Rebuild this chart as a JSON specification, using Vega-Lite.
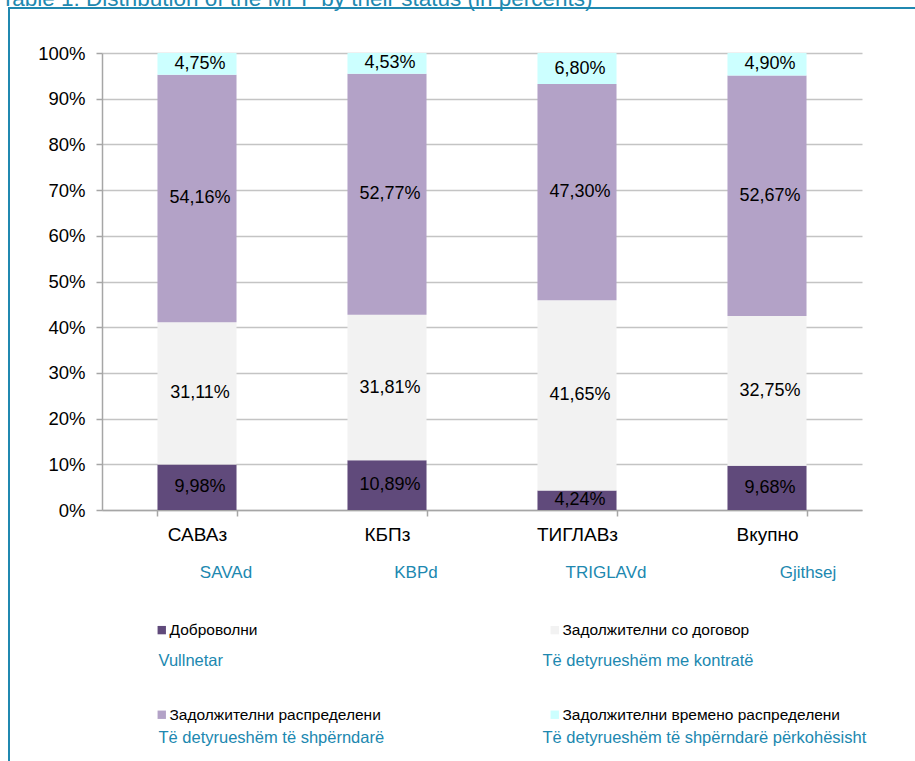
{
  "$schema": "https://vega.github.io/schema/vega-lite/v6.json",
  "width": 912,
  "height": 760,
  "autosize": {"type": "none"},
  "padding": {"left": 9, "top": 8, "right": -6, "bottom": -7},
  "background": "white",
  "title": {
    "text": "Table 1: Distribution of the MPF by their status (in percents)",
    "anchor": "start",
    "frame": "group",
    "orient": "top",
    "offset": 0,
    "baseline": "alphabetic",
    "dx": -8,
    "dy": 20,
    "fontSize": 22.5,
    "fontWeight": "normal",
    "color": "#2088b0"
  },
  "data": {
    "values": [
      {"company": "САВАз", "status": "Доброволни", "sq": "Vullnetar", "k": 1, "v": 9.98},
      {"company": "САВАз", "status": "Задолжителни со договор", "sq": "Të detyrueshëm me kontratë", "k": 2, "v": 31.11},
      {"company": "САВАз", "status": "Задолжителни распределени", "sq": "Të detyrueshëm të shpërndarë", "k": 3, "v": 54.16},
      {"company": "САВАз", "status": "Задолжителни времено распределени", "sq": "Të detyrueshëm të shpërndarë përkohësisht", "k": 4, "v": 4.75},
      {"company": "КБПз", "status": "Доброволни", "sq": "Vullnetar", "k": 1, "v": 10.89},
      {"company": "КБПз", "status": "Задолжителни со договор", "sq": "Të detyrueshëm me kontratë", "k": 2, "v": 31.81},
      {"company": "КБПз", "status": "Задолжителни распределени", "sq": "Të detyrueshëm të shpërndarë", "k": 3, "v": 52.77},
      {"company": "КБПз", "status": "Задолжителни времено распределени", "sq": "Të detyrueshëm të shpërndarë përkohësisht", "k": 4, "v": 4.53},
      {"company": "ТИГЛАВз", "status": "Доброволни", "sq": "Vullnetar", "k": 1, "v": 4.24},
      {"company": "ТИГЛАВз", "status": "Задолжителни со договор", "sq": "Të detyrueshëm me kontratë", "k": 2, "v": 41.65},
      {"company": "ТИГЛАВз", "status": "Задолжителни распределени", "sq": "Të detyrueshëm të shpërndarë", "k": 3, "v": 47.30},
      {"company": "ТИГЛАВз", "status": "Задолжителни времено распределени", "sq": "Të detyrueshëm të shpërndarë përkohësisht", "k": 4, "v": 6.80},
      {"company": "Вкупно", "status": "Доброволни", "sq": "Vullnetar", "k": 1, "v": 9.68},
      {"company": "Вкупно", "status": "Задолжителни со договор", "sq": "Të detyrueshëm me kontratë", "k": 2, "v": 32.75},
      {"company": "Вкупно", "status": "Задолжителни распределени", "sq": "Të detyrueshëm të shpërndarë", "k": 3, "v": 52.67},
      {"company": "Вкупно", "status": "Задолжителни времено распределени", "sq": "Të detyrueshëm të shpërndarë përkohësisht", "k": 4, "v": 4.90}
    ]
  },
  "transform": [
    {"stack": "v", "groupby": ["company"], "sort": [{"field": "k", "order": "ascending"}], "as": ["v0", "v1"]},
    {"calculate": "(datum.v0 + datum.v1) / 2", "as": "vm"},
    {"calculate": "replace(format(datum.v, '.2f'), '.', ',') + '%'", "as": "lbl"}
  ],
  "layer": [
    {
      "mark": {"type": "bar"},
      "encoding": {
        "x": {
          "field": "company",
          "type": "nominal",
          "sort": ["САВАз", "КБПз", "ТИГЛАВз", "Вкупно"],
          "scale": {"range": [93, 853], "paddingInner": 0.584, "paddingOuter": 0.292},
          "axis": {
            "title": null,
            "orient": "bottom",
            "offset": -258,
            "tickBand": "extent",
            "tickSize": 6,
            "labelPadding": 9,
            "labelFontSize": 19,
            "labelColor": "#000000",
            "labelAngle": 0,
            "domainColor": "#a6a6a6",
            "tickColor": "#a6a6a6",
            "domainWidth": 1.5,
            "tickWidth": 1.5,
            "grid": false
          }
        },
        "y": {
          "field": "v1",
          "type": "quantitative",
          "scale": {"domain": [0, 100], "range": [502, 45], "nice": false},
          "axis": {
            "title": null,
            "values": [0, 10, 20, 30, 40, 50, 60, 70, 80, 90, 100],
            "labelExpr": "datum.value + '%'",
            "offset": -93,
            "tickSize": 6,
            "labelPadding": 11,
            "labelFontSize": 18.5,
            "labelColor": "#000000",
            "domainColor": "#a6a6a6",
            "tickColor": "#a6a6a6",
            "domainWidth": 1.5,
            "tickWidth": 1.5,
            "grid": true,
            "gridColor": "#c4c4c4",
            "gridWidth": 1.5
          }
        },
        "y2": {"field": "v0"},
        "color": {
          "field": "status",
          "type": "nominal",
          "scale": {
            "domain": ["Доброволни", "Задолжителни со договор", "Задолжителни распределени", "Задолжителни времено распределени"],
            "range": ["#604a7b", "#f2f2f2", "#b3a2c7", "#ccffff"]
          },
          "legend": {
            "title": null,
            "orient": "none",
            "direction": "horizontal",
            "legendX": 145,
            "legendY": 614,
            "columns": 2,
            "columnPadding": 166,
            "rowPadding": 68,
            "symbolType": "square",
            "symbolSize": 70,
            "symbolStrokeWidth": 0,
            "labelFontSize": 15.5,
            "labelColor": "#000000",
            "labelOffset": 0,
            "labelLimit": 400,
            "padding": 0
          }
        }
      }
    },
    {
      "mark": {"type": "text", "fontSize": 18, "color": "#000000", "dx": 3, "baseline": "middle"},
      "encoding": {
        "x": {
          "field": "company",
          "type": "nominal",
          "sort": ["САВАз", "КБПз", "ТИГЛАВз", "Вкупно"],
          "axis": {
            "title": null,
            "orient": "bottom",
            "offset": -258,
            "domain": false,
            "ticks": false,
            "tickSize": 0,
            "labelPadding": 54,
            "labelFontSize": 17,
            "labelColor": "#2088b0",
            "labelAngle": 0,
            "labelExpr": "datum.value === 'САВАз' ? 'SAVAd' : datum.value === 'КБПз' ? 'KBPd' : datum.value === 'ТИГЛАВз' ? 'TRIGLAVd' : 'Gjithsej'",
            "labelOffset": {"condition": {"test": "datum.value === 'Вкупно'", "value": 41}, "value": 29},
            "grid": false
          }
        },
        "y": {"field": "vm", "type": "quantitative", "axis": null},
        "text": {"field": "lbl"}
      }
    },
    {
      "mark": {"type": "point", "opacity": 0},
      "encoding": {
        "x": {"field": "company", "type": "nominal", "sort": ["САВАз", "КБПз", "ТИГЛАВз", "Вкупно"], "axis": null},
        "y": {"field": "vm", "type": "quantitative", "axis": null},
        "shape": {
          "field": "sq",
          "type": "nominal",
          "scale": {"domain": ["Vullnetar", "Të detyrueshëm me kontratë", "Të detyrueshëm të shpërndarë", "Të detyrueshëm të shpërndarë përkohësisht"]},
          "legend": {
            "title": null,
            "orient": "none",
            "direction": "horizontal",
            "legendX": 133,
            "legendY": 645,
            "columns": 2,
            "columnPadding": 141,
            "rowPadding": 60,
            "symbolSize": 0,
            "symbolOpacity": 0,
            "labelOffset": 0,
            "labelFontSize": 16.5,
            "labelColor": "#2088b0",
            "labelLimit": 500,
            "padding": 0
          }
        }
      }
    }
  ],
  "resolve": {"axis": {"x": "independent", "y": "independent"}},
  "config": {
    "font": "Liberation Sans",
    "view": {"stroke": "#2088b0", "strokeWidth": 2}
  }
}
